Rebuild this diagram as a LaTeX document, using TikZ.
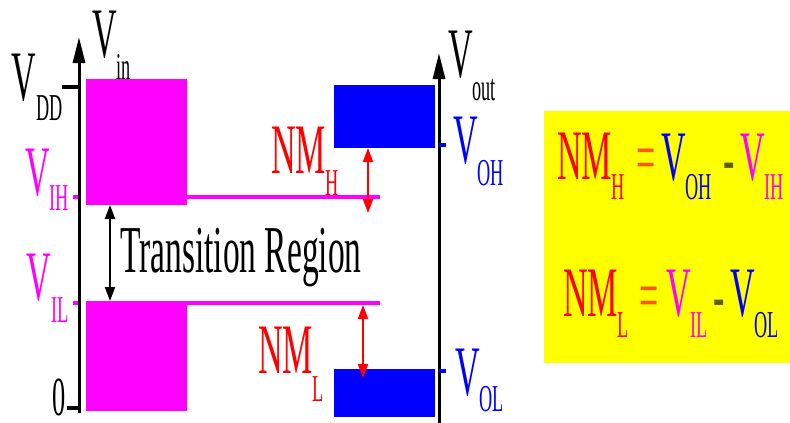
\documentclass[tikz,border=0pt]{standalone}
\usepackage{fontspec}
\setmainfont{Liberation Serif}
\usetikzlibrary{arrows.meta}
\definecolor{nmred}{HTML}{FF0000}
\definecolor{levmag}{HTML}{FF00FF}
\definecolor{levblue}{HTML}{0000FF}
\definecolor{eqorange}{HTML}{FF5500}
\definecolor{minusolive}{HTML}{5F5A00}
\definecolor{boxyellow}{HTML}{FFFF00}
\newcommand{\narrowtxt}[2]{\scalebox{0.48}[1]{\fontsize{#1}{#1}\selectfont #2}}
\newcommand{\lvl}[3]{\scalebox{0.48}[1]{\fontsize{71}{71}\selectfont #1\raisebox{-#3}{\fontsize{38}{38}\selectfont #2}}}
\tikzset{
  axis line/.style={draw=black, line width=3pt,
    -{Triangle[length=26pt,width=12pt]}},
  tick/.style={line width=4pt},
  level bar/.style={anchor=north west, inner sep=0pt, outer sep=0pt},
  level line/.style={draw=levmag, line width=4pt},
  gap arrow/.style={line width=2pt,
    {Triangle[length=14pt,width=10pt]}-{Triangle[length=14pt,width=10pt]}},
  lbl/.style={anchor=base west, inner sep=0pt, outer sep=0pt},
}

\begin{document}
\begin{tikzpicture}[x=1pt, y=-1pt]
  \useasboundingbox (0,0) rectangle (790,423);

  \node[level bar, fill=boxyellow, minimum width=246pt, minimum height=252pt]
    (nmbox) at (544,111) {};

  \node[level bar, fill=levmag, minimum width=101pt, minimum height=126pt]
    (inhigh) at (86,79) {};
  \node[level bar, fill=levmag, minimum width=101pt, minimum height=110pt]
    (inlow) at (86,301) {};
  \node[level bar, fill=levblue, minimum width=101pt, minimum height=63pt]
    (outhigh) at (334,85) {};
  \node[level bar, fill=levblue, minimum width=101pt, minimum height=48pt]
    (outlow) at (334,369) {};

  \coordinate (vihtick) at (73,197);
  \coordinate (viltick) at (73,303);
  \coordinate (vihend) at (380,197);
  \coordinate (vilend) at (380,303);
  \draw[level line] (vihtick) -- ++(6,0);
  \draw[level line] (viltick) -- ++(6,0);
  \draw[level line] (inhigh.south east |- vihtick) -- (vihend);
  \draw[level line] (inhigh.south east |- viltick) -- (vilend);

  \coordinate (inbase) at (79,413);
  \coordinate (intip) at (79,37);
  \coordinate (outbase) at (439,423);
  \coordinate (outtip) at (439,53);
  \draw[axis line] (inbase) -- (intip);
  \draw[axis line] (outbase) -- (outtip);

  \draw[tick] (62,87) -- (79,87);
  \draw[tick] (67,408) -- (79,408);
  \draw[tick, levblue] (439,145) -- (446,145);
  \draw[tick, levblue] (439,371) -- (446,371);

  \coordinate (transtop) at (110,205);
  \coordinate (transbot) at (110,301);
  \draw[gap arrow] (transtop) -- (transbot);

  \coordinate (nmhtop) at (368,148);
  \coordinate (nmhbot) at (368,213);
  \coordinate (nmltop) at (363,305);
  \coordinate (nmlbot) at (363,378);
  \draw[gap arrow, nmred] (nmhtop) -- (nmhbot);
  \draw[gap arrow, nmred] (nmltop) -- (nmlbot);

  \node[lbl] (vin) at (92,57) {\lvl{V}{in}{22pt}};
  \node[lbl] (vdd) at (12,100) {\lvl{V}{DD}{20pt}};
  \node[lbl, text=levmag] (vih) at (25,195) {\lvl{V}{IH}{15pt}};
  \node[lbl, text=levmag] (vil) at (27,300) {\lvl{V}{IL}{22pt}};
  \node[lbl] (zero) at (52,415) {\narrowtxt{55}{0}};
  \node[lbl] (vout) at (448,77) {\lvl{V}{out}{23pt}};
  \node[lbl, text=nmred] (nmh) at (271,173) {\lvl{NM}{H}{22pt}};
  \node[lbl, text=levblue] (voh) at (453,163) {\lvl{V}{OH}{22pt}};
  \node[lbl, text=nmred] (nml) at (258,373) {\lvl{NM}{L}{28pt}};
  \node[lbl, text=levblue] (vol) at (455,395) {\lvl{V}{OL}{16pt}};
  \node[lbl] (trans) at (120,272)
    {\scalebox{0.5}[1]{\fontsize{67}{67}\selectfont Transition Region}};

  \node[lbl, text=nmred] (fnmh) at (557,179) {\lvl{NM}{H}{20pt}};
  \node[lbl, text=eqorange] (feqh) at (636,181) {\narrowtxt{71}{=}};
  \node[lbl, text=levblue] (fvoh) at (661,180) {\lvl{V}{OH}{19pt}};
  \node[lbl, text=minusolive] (fminh) at (723,182) {\narrowtxt{71}{-}};
  \node[lbl, text=levmag] (fvih) at (740,180) {\lvl{V}{IH}{19pt}};

  \node[lbl, text=nmred] (fnml) at (563,316) {\lvl{NM}{L}{21pt}};
  \node[lbl, text=eqorange] (feql) at (639,319) {\narrowtxt{71}{=}};
  \node[lbl, text=levmag] (fvil) at (666,316) {\lvl{V}{IL}{21pt}};
  \node[lbl, text=minusolive] (fminl) at (713,319) {\narrowtxt{71}{-}};
  \node[lbl, text=levblue] (fvol) at (730,316) {\lvl{V}{OL}{21pt}};
\end{tikzpicture}
\end{document}
